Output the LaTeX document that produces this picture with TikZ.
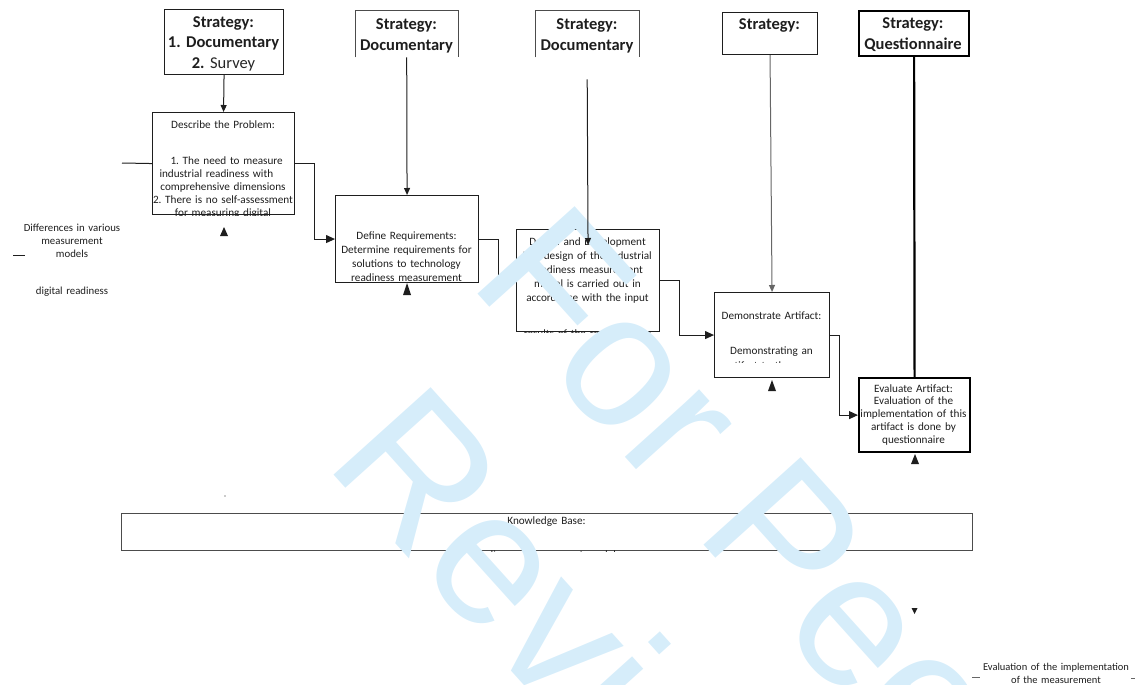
\documentclass[tikz,border=0pt]{standalone}
\usepackage{fontspec}
\setmainfont{Carlito}
\newfontfamily\wmfont{Liberation Sans}
\usetikzlibrary{arrows.meta}
\frenchspacing

\definecolor{ink}{RGB}{30,30,30}
\definecolor{wmblue}{RGB}{214,237,250}

\begin{document}
\begin{tikzpicture}[x=1pt,y=-1pt,
  box/.style={draw=ink, line width=1.1pt, inner sep=0pt, anchor=north west},
  thickbox/.style={box, draw=black, line width=2.2pt},
  openbox/.style={inner sep=0pt, anchor=north west},
  stratext/.style={font=\bfseries\fontsize{16.5}{20.5}\selectfont, text=ink,
    inner sep=0pt, anchor=base, align=center},
  proctext/.style={font=\fontsize{11.2}{14}\selectfont, text=ink,
    inner sep=0pt, anchor=base, align=center},
  plain/.style={font=\fontsize{10.8}{13}\selectfont, text=ink,
    inner sep=0pt, anchor=base, align=center},
  down/.style={draw=ink, line width=1pt, -{Triangle[length=7pt,width=6pt]}},
  flow/.style={draw=ink, line width=1pt, -{Triangle[length=9pt,width=8pt]}},
  wm/.style={font=\wmfont\fontsize{190}{214}\selectfont, text=wmblue,
    inner sep=0pt, anchor=base, rotate=-48}
]
\useasboundingbox (0,0) rectangle (1135,685);

% ---------- strategy boxes ----------
\node[box, minimum width=119pt, minimum height=65pt] (s1) at (164,9) {};
\node[openbox, minimum width=103pt, minimum height=46pt] (s2) at (355,11) {};
\draw[draw=black!70, line width=1pt] (s2.south west) -- (s2.north west) -- (s2.north east) -- (s2.south east);
\node[openbox, minimum width=104pt, minimum height=46pt] (s3) at (535,11) {};
\draw[draw=black!70, line width=1pt] (s3.south west) -- (s3.north west) -- (s3.north east) -- (s3.south east);
\node[box, minimum width=95pt, minimum height=42pt] (s4) at (722,12) {};
\node[thickbox, minimum width=110pt, minimum height=45pt] (s5) at (858,10) {};

\node[stratext, text width=119pt] (s1text) at (223.5,27.5)
  {Strategy:\\1. Documentary\\2. {\mdseries\color{black!85}Survey}};
\node[stratext, text width=103pt, font=\bfseries\fontsize{16.5}{21.5}\selectfont] (s2text) at (406.5,29.5)
  {Strategy:\\Documentary};
\node[stratext, text width=104pt, font=\bfseries\fontsize{16.5}{21.5}\selectfont] (s3text) at (587,29.5)
  {Strategy:\\Documentary};
\node[stratext, text width=95pt] (s4text) at (769.5,29.5) {Strategy:};
\node[stratext, text width=110pt, font=\bfseries\fontsize{16.5}{21.5}\selectfont] (s5text) at (913,28.5)
  {Strategy:\\Questionnaire};

% ---------- process boxes ----------
\node[box, minimum width=142pt, minimum height=102pt] (describe) at (152,112) {};
\node[box, minimum width=143pt, minimum height=87pt] (define) at (335,195) {};
\node[box, minimum width=143pt, minimum height=102pt] (design) at (516,229) {};
\node[box, minimum width=115pt, minimum height=85pt] (demo) at (714,292) {};
\node[thickbox, minimum width=111pt, minimum height=74pt] (evaluate) at (858,377) {};
\node[box, draw=black!70, line width=1.2pt, minimum width=851pt, minimum height=37pt] (kb) at (121,513) {};

\begin{scope}
  \clip (describe.north west) rectangle (describe.south east);
  \node[proctext, text width=142pt, font=\fontsize{11.2}{13}\selectfont] (describetext) at (223,128.5)
    {Describe the Problem:\\[23pt]
     \makebox[127pt][s]{\hspace*{11pt}1. The need to measure}\\
     \makebox[127pt][s]{industrial readiness with}\\
     comprehensive dimensions\\
     2. There is no self-assessment\\
     for measuring digital};
\end{scope}

\node[proctext, text width=143pt] (definetext) at (406.5,239.5)
  {Define Requirements:\\Determine requirements for\\solutions to technology\\readiness measurement};

\begin{scope}
  \clip (design.north west) rectangle (design.south east);
  \node[proctext, text width=143pt] (designtext) at (587.5,245.5)
    {Design and Development\\The design of the industrial\\readiness measurement\\model is carried out in\\accordance with the input\\[22pt]
     results of the requirements};
\end{scope}

\begin{scope}
  \clip (demo.north west) rectangle ([yshift=15.5pt]demo.south east);
  \node[proctext, text width=115pt] (demotext) at (771.5,319.5)
    {Demonstrate Artifact:\\[21pt]Demonstrating an\\[1pt]artifact to the users};
\end{scope}

\node[proctext, text width=111pt, font=\fontsize{11.2}{12.9}\selectfont] (evaluatetext) at (913.5,392)
  {Evaluate Artifact:\\Evaluation of the\\implementation of this\\artifact is done by\\questionnaire};

\begin{scope}
  \clip (kb.north west) rectangle (kb.south east);
  \node[proctext, text width=300pt] (kbtext) at (546.5,524.5)
    {Knowledge Base:\\[19.5pt]readiness measurement models};
\end{scope}

% ---------- loose notes ----------
\node[plain, text width=120pt] (noteleft) at (72,231) {Differences in various\\measurement\\models};
\node[plain, text width=120pt] (notedigital) at (72,294.5) {digital readiness};
\node[plain, text width=160pt, font=\fontsize{10.5}{13}\selectfont] (noteright) at (1056,670)
  {Evaluation of the implementation\\of the measurement};

\coordinate (dashA1) at (13,255);  \coordinate (dashA2) at (25,255);
\coordinate (dashB1) at (972,677); \coordinate (dashB2) at (980,677);
\coordinate (dashC1) at (1131,678); \coordinate (dashC2) at (1135,678);
\draw[ink, line width=0.9pt] (dashA1) -- (dashA2);
\draw[black!60, line width=0.9pt] (dashB1) -- (dashB2);
\draw[black!60, line width=0.7pt] (dashC1) -- (dashC2);
\fill[ink] (225,496) circle (0.7);

% ---------- connectors ----------
\coordinate (probin) at (122,163);
\draw[ink, line width=1pt] (probin) -- (describe.west);

\draw[down] (s1.south) -- (describe.north);
\draw[down] (s2.south) -- (define.north);
\draw[down, draw=black!60] (s4.south) -- (demo.north);
\draw[black, line width=2.2pt] (s5.south) -- (evaluate.north);

\draw[flow] (describe.east) -- ++(19,0) |- (define.west);
\draw[flow] (define.east) -- ++(19,0) |- (design.west);
\draw[flow] (design.east) -- ++(19,0) |- (demo.west);
\draw[flow] (demo.east) -- ++(9,0) |- (evaluate.west);

% arrowheads left without their shafts
\fill[ink] (224,227) -- (228,236) -- (220,236) -- cycle;
\fill[ink] (407,283) -- (411,295) -- (403,295) -- cycle;
\fill[ink] (772,380) -- (776,391) -- (768,391) -- cycle;
\fill[ink] (915,454) -- (919,464) -- (911,464) -- cycle;
\fill[ink] (914.5,614) -- (917.5,608) -- (911.5,608) -- cycle;

% ---------- watermark ----------
\node[wm] (wmline1) at (715,557) {For Peer};
\node[wm] (wmline2) at (532,695) {Review};

\draw[down] ([yshift=-22pt]s3.south) -- ([yshift=-16pt]design.north);
\end{tikzpicture}
\end{document}
